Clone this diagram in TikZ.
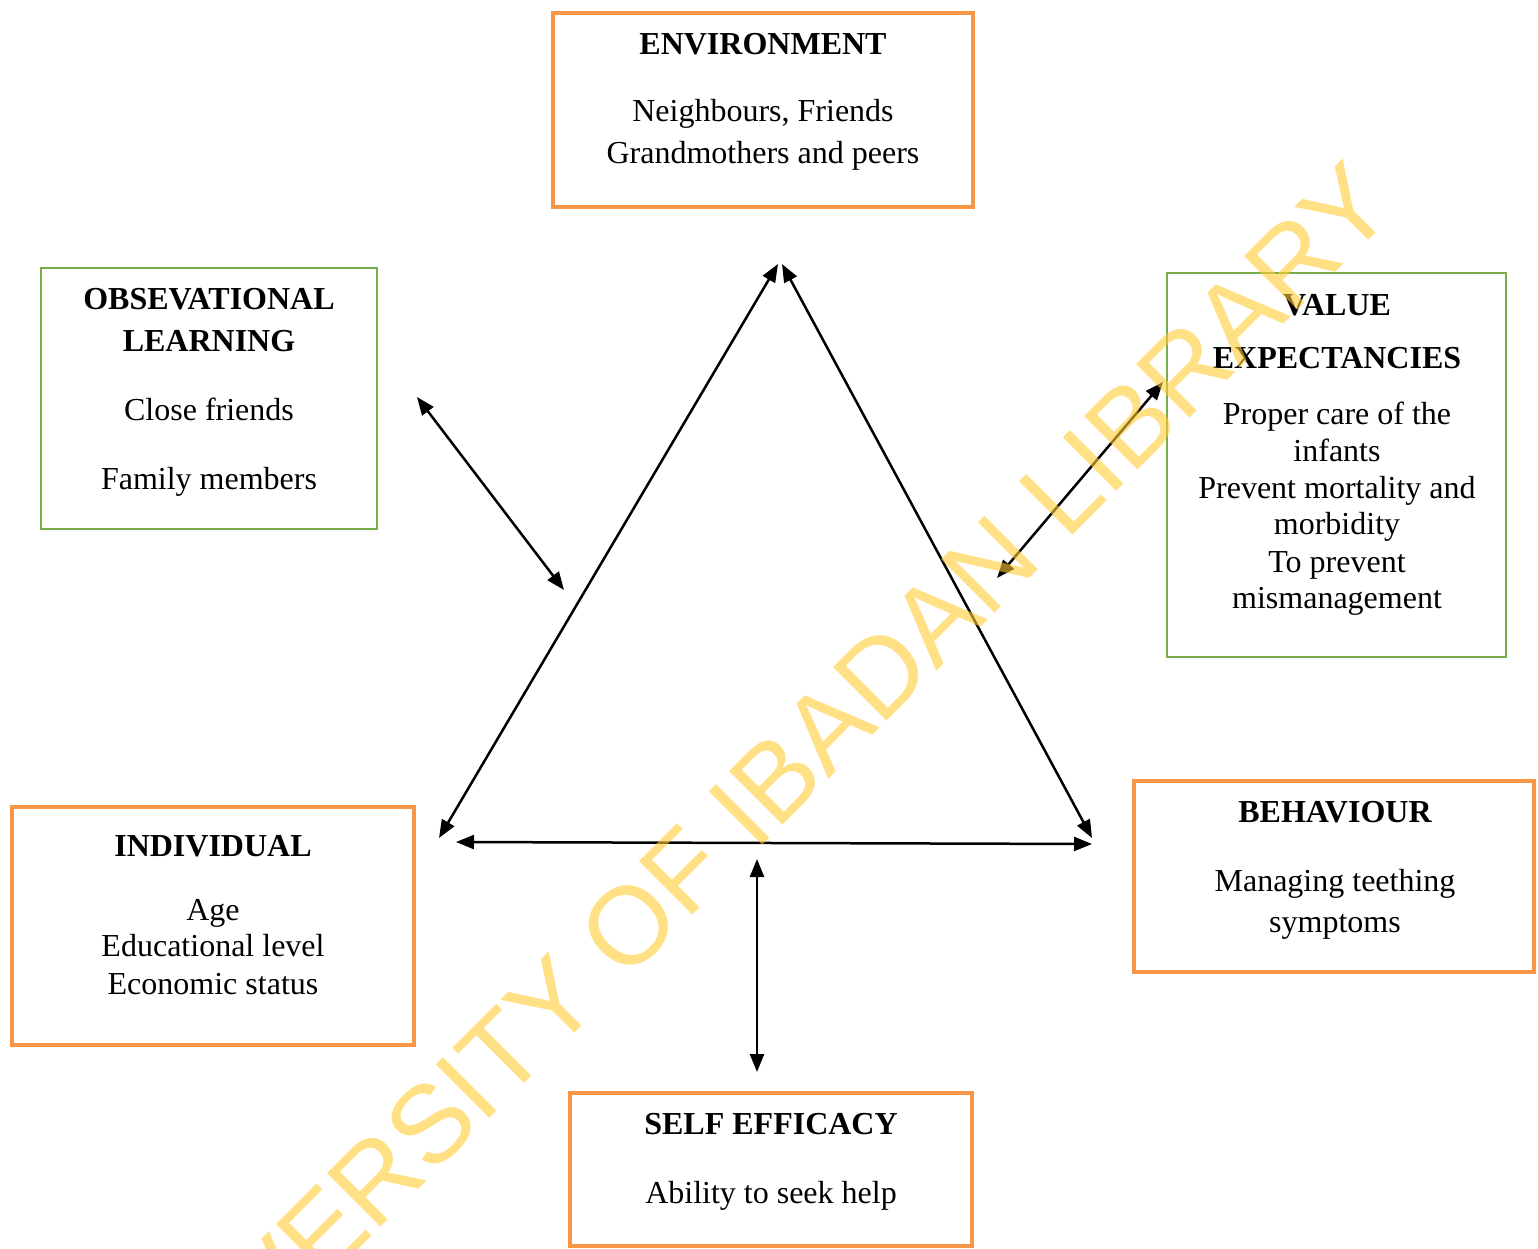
\documentclass[tikz,border=0pt]{standalone}
\usepackage{fontspec}
\setmainfont{Liberation Serif}
\newfontfamily\wmfont{Liberation Sans}
\usetikzlibrary{arrows.meta}
\definecolor{boxorange}{HTML}{F79646}
\definecolor{boxgreen}{HTML}{77AD4A}
\definecolor{wmyellow}{RGB}{255,204,51}
\begin{document}
\begin{tikzpicture}[x=1pt,y=-1pt,
  obox/.style={draw=boxorange,line width=4pt,inner sep=0pt,outer sep=0pt},
  gbox/.style={draw=boxgreen,line width=2.5pt,inner sep=0pt,outer sep=0pt},
  lbl/.style={font=\fontsize{32}{40}\selectfont,anchor=base,inner sep=0pt},
  ttl/.style={font=\fontsize{32}{40}\selectfont\bfseries,anchor=base,inner sep=0pt},
  link/.style={line width=2.5pt,{Triangle[length=18pt,width=14pt]}-{Triangle[length=18pt,width=14pt]}}
]
\useasboundingbox (0,0) rectangle (1538,1249);

% boxes
\node[obox,minimum width=420pt,minimum height=194pt] (env) at (763,110) {};
\node[gbox,minimum width=336pt,minimum height=261pt] (obs) at (209,398.5) {};
\node[gbox,minimum width=339pt,minimum height=384pt] (val) at (1336.5,465) {};
\node[obox,minimum width=402pt,minimum height=238pt] (ind) at (213,926) {};
\node[obox,minimum width=400pt,minimum height=191pt] (beh) at (1334,876.5) {};
\node[obox,minimum width=402pt,minimum height=153pt] (self) at (771,1169.5) {};

% texts
\node[ttl] (envt) at (763,55) {ENVIRONMENT};
\node[lbl] (env1) at (763,122) {Neighbours, Friends};
\node[lbl] (env2) at (763,164) {Grandmothers and peers};

\node[ttl] (obst1) at (209,309) {OBSEVATIONAL};
\node[ttl] (obst2) at (209,351) {LEARNING};
\node[lbl] (obs1) at (209,420) {Close friends};
\node[lbl] (obs2) at (209,489) {Family members};

\node[ttl] (valt1) at (1337,315) {VALUE};
\node[ttl] (valt2) at (1337,368) {EXPECTANCIES};
\node[lbl] (val1) at (1337,424) {Proper care of the};
\node[lbl] (val2) at (1337,461) {infants};
\node[lbl] (val3) at (1337,498) {Prevent mortality and};
\node[lbl] (val4) at (1337,534) {morbidity};
\node[lbl] (val5) at (1337,572) {To prevent};
\node[lbl] (val6) at (1337,608) {mismanagement};

\node[ttl] (indt) at (213,856) {INDIVIDUAL};
\node[lbl] (ind1) at (213,920) {Age};
\node[lbl] (ind2) at (213,956) {Educational level};
\node[lbl] (ind3) at (213,994) {Economic status};

\node[ttl] (beht) at (1335,822) {BEHAVIOUR};
\node[lbl] (beh1) at (1335,891) {Managing teething};
\node[lbl] (beh2) at (1335,932) {symptoms};

\node[ttl] (selft) at (771,1134) {SELF EFFICACY};
\node[lbl] (self1) at (771,1203) {Ability to seek help};

% arrow end points
\coordinate (topL) at (778,264);
\coordinate (topR) at (782,264);
\coordinate (leftA) at (439,838);
\coordinate (leftB) at (456,842);
\coordinate (rightA) at (1092,838);
\coordinate (rightB) at (1092,844);
\coordinate (obsA) at (417,397);
\coordinate (obsB) at (564,590);
\coordinate (valA) at (1163,382);
\coordinate (valB) at (997,578);
\coordinate (selfA) at (757,859);
\coordinate (selfB) at (757,1072);

\draw[link] (leftA) -- (topL);
\draw[link] (topR) -- (rightA);
\draw[link] (leftB) -- (rightB);
\draw[link] (obsA) -- (obsB);
\draw[link] (valA) -- (valB);
\draw[link] (selfA) -- (selfB);

% watermark
\node[anchor=base east,rotate=45,inner sep=0pt,text=wmyellow,opacity=0.6,
  font=\wmfont\fontsize{110}{110}\selectfont] (wm) at (1398,210) {UNIVERSITY OF IBADAN LIBRARY};
\end{tikzpicture}
\end{document}
